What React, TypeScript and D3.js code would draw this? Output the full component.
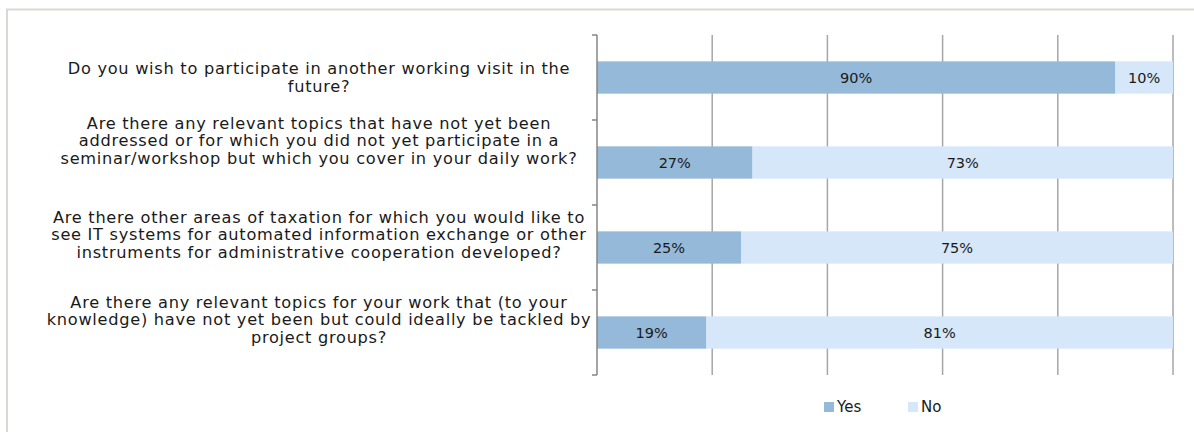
import React from "react";
import * as d3 from "d3";

const questions: string[][] = [
  ["Do you wish to participate in another working visit in the", "future?"],
  [
    "Are there any relevant topics that have not yet been",
    "addressed or for which you did not yet participate in a",
    "seminar/workshop but which you cover in your daily work?",
  ],
  [
    "Are there other areas of taxation for which you would like to",
    "see IT systems for automated information exchange or other",
    "instruments for administrative cooperation developed?",
  ],
  [
    "Are there any relevant topics for your work that (to your",
    "knowledge) have not yet been but could ideally be tackled by",
    "project groups?",
  ],
];
const yesValues = [90, 27, 25, 19];
const noValues = [10, 73, 75, 81];
const seriesNames = ["Yes", "No"];
const seriesColors = ["#95b9d9", "#d5e7f8"];
const xTicks = [0, 20, 40, 60, 80, 100];
const labelShift = [0, -22, -13, -13];

const W = 1194;
const H = 432;
const left = 597;
const right = 1173;
const top = 35;
const bottom = 375;
const FONT = "'DejaVu Sans', Verdana, sans-serif";

export default function App() {
  const ids = questions.map((_, i) => String(i));
  const x = d3.scaleLinear().domain([0, 100]).range([left, right]);
  const y = d3.scaleBand().domain(ids).range([top, bottom]).paddingInner(0.62).paddingOuter(0.31);
  const step = y.step();
  const stacked = ids.map((id, i) => ({ id, segs: [
    { name: seriesNames[0], x0: 0, x1: yesValues[i], v: yesValues[i], c: seriesColors[0] },
    { name: seriesNames[1], x0: yesValues[i], x1: yesValues[i] + noValues[i], v: noValues[i], c: seriesColors[1] },
  ] }));
  const lineH = 17.5;
  const labelX = 319;
  return (
    <svg width={W} height={H} style={{ position: "absolute", left: 0, top: 0 }} fontFamily={FONT}>
      <rect x={0} y={0} width={W} height={H} fill="#fff" />
      <rect x={7} y={9.5} width={W + 10} height={H + 10} fill="none" stroke="#d9d9d1" strokeWidth={2} />
      {xTicks.slice(1).map((t) => (
        <line key={t} x1={x(t)} x2={x(t)} y1={top} y2={bottom} stroke="#a6a6a6" strokeWidth={1.5} />
      ))}
      {stacked.map((row) =>
        row.segs.map((s) => (
          <g key={row.id + s.name}>
            <rect x={x(s.x0)} y={y(row.id)!} width={x(s.x1) - x(s.x0)} height={y.bandwidth()} fill={s.c} />
            <text
              x={(x(s.x0) + x(s.x1)) / 2}
              y={y(row.id)! + y.bandwidth() / 2}
              dy="0.35em"
              textAnchor="middle"
              fontSize={14.5}
              fill="#1a1a1a"
            >
              {s.v}%
            </text>
          </g>
        ))
      )}
      <line x1={left} x2={left} y1={top} y2={bottom} stroke="#868686" strokeWidth={1.5} />
      {d3.range(ids.length + 1).map((i) => (
        <line key={i} x1={left - 5} x2={left} y1={top + i * step} y2={top + i * step} stroke="#868686" strokeWidth={1.5} />
      ))}
      {questions.map((lines, i) => {
        const cy = y(ids[i])! + y.bandwidth() / 2 + labelShift[i];
        const y0 = cy - ((lines.length - 1) * lineH) / 2;
        return (
          <text key={i} textAnchor="middle" fontSize={16.2} letterSpacing={0.72} fill="#1a1a1a">
            {lines.map((l, j) => (
              <tspan key={j} x={labelX} y={y0 + j * lineH} dy="0.35em">
                {l}
              </tspan>
            ))}
          </text>
        );
      })}
      {seriesNames.map((n, i) => {
        const lx = [824, 908][i];
        return (
          <g key={n}>
            <rect x={lx} y={402} width={10} height={10} fill={seriesColors[i]} />
            <text x={lx + 13} y={407} dy="0.35em" fontSize={15} fill="#1a1a1a">
              {n}
            </text>
          </g>
        );
      })}
    </svg>
  );
}
